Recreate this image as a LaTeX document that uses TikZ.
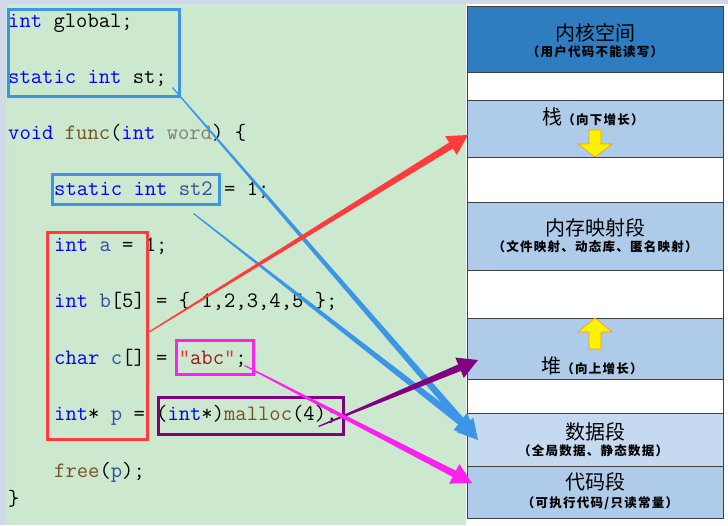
\documentclass[tikz,border=0pt]{standalone}
\usepackage{fontspec}
\newfontfamily\cjk{Noto Sans CJK SC}
\newfontfamily\cjks[LetterSpace=10]{Noto Sans CJK SC}
\usetikzlibrary{positioning,calc}
\definecolor{strip}{HTML}{D0D8EA}
\definecolor{codebg}{HTML}{CCE8CF}
\definecolor{kwblue}{HTML}{0000FF}
\definecolor{idblue}{HTML}{2F4F9F}
\definecolor{fnbrown}{HTML}{74531F}
\definecolor{strred}{HTML}{A31515}
\definecolor{qred}{HTML}{E53333}
\definecolor{boxblue}{HTML}{3D95E8}
\definecolor{boxred}{HTML}{FF3B3B}
\definecolor{boxpink}{HTML}{FF22EE}
\definecolor{boxpurple}{HTML}{800080}
\definecolor{kernel}{HTML}{2E7DC0}
\definecolor{segblue}{HTML}{AECBE9}
\definecolor{datablue}{HTML}{C5D9F1}
\newcommand{\ckw}[1]{\textcolor{kwblue}{#1}}
\newcommand{\cid}[1]{\textcolor{idblue}{#1}}
\newcommand{\cfn}[1]{\textcolor{fnbrown}{#1}}
\newcommand{\cpar}[1]{\textcolor{gray}{#1}}
\newcommand{\cstr}[1]{\textcolor{qred}{"}\textcolor{strred}{#1}\textcolor{qred}{"}}
\newcommand{\subtxt}{\cjks\bfseries\fontsize{12.5}{14}\selectfont}
%% tapered arrow: colour, from, to
\newcommand{\taperarrow}[3]{%
  \coordinate (hb) at ($(#3)!20pt!(#2)$);
  \fill[#1] ($(#2)!0.6pt!90:(#3)$) -- ($(hb)!3.5pt!-90:(#2)$) -- ($(hb)!11pt!-90:(#2)$) -- (#3)
    -- ($(hb)!11pt!90:(#2)$) -- ($(hb)!3.5pt!90:(#2)$) -- ($(#2)!0.6pt!-90:(#3)$) -- cycle;}

\begin{document}
\begin{tikzpicture}[
  x=1pt, y=-1pt,
  code/.style   = {anchor=base west, inner sep=0pt, font=\ttfamily\fontsize{22}{26}\selectfont},
  cbox/.style   = {draw=#1, line width=2.5pt, anchor=north west, inner sep=0pt},
  seg/.style    = {draw=black!75, line width=0.8pt, minimum width=256pt, inner sep=0pt,
                   outer sep=0pt},
  big/.style    = {font=\cjk\fontsize{20}{22}\selectfont, inner sep=0pt},
  small/.style  = {font=\subtxt, inner sep=0pt},
  yarrow/.style = {draw=orange!80!yellow, fill=yellow, line width=0.6pt},
]
\useasboundingbox (0,0) rectangle (728,525);

%% background
\fill[strip] (0,0) rectangle (728,525);
\fill[codebg] (6,4) rectangle (466,525);
\fill[white] (466,4) rectangle (728,525);
\draw[gray!30, dashed, line width=1.5pt] (13,148) -- (13,487);

%% code
\node[code] (l1) at (8,27) {\ckw{int} global;};
\node[code] (l2) at (8,83) {\ckw{static} \ckw{int} st;};
\node[code] (l3) at (8,139) {\ckw{void} \cfn{func}(\ckw{int} \cpar{word}) \{};
\node[code] (l4) at (54,195) {\ckw{static} \ckw{int} \cid{st2} = 1;};
\node[code] (l5) at (54,251) {\ckw{int} \cid{a} = 1;};
\node[code] (l6) at (54,307) {\ckw{int} \cid{b}[5] = \{ 1,2,3,4,5 \};};
\node[code] (l7) at (54,364) {\ckw{char} \cid{c}[] = \cstr{abc};};
\node[code] (l8) at (54,420) {\ckw{int}* \cid{p} = (\ckw{int}*)\cfn{malloc}(4);};
\node[code] (l9) at (54,477) {\cfn{free}(\cid{p});};
\node[code] (l10) at (8,505) {\}};

%% boxes round the code
\node[cbox=boxblue, minimum width=171pt, minimum height=87pt] (glob) at (7,8) {};
\node[cbox=boxblue, minimum width=167pt, minimum height=30pt] (stat) at (51,173) {};
\node[cbox=boxred, minimum width=100pt, minimum height=207pt] (loc) at (46,231) {};
\node[cbox=boxpink, minimum width=77pt, minimum height=34pt] (str) at (175,339) {};
\node[cbox=boxpurple, minimum width=185pt, minimum height=37pt] (mal) at (157,396) {};

%% memory layout
\node[seg, fill=kernel, minimum height=66pt, anchor=north west] (ker) at (467,6) {};
\node[seg, fill=white, minimum height=28pt, below=0pt of ker] (gap1) {};
\node[seg, fill=segblue, minimum height=57pt, below=0pt of gap1] (stk) {};
\node[seg, fill=white, minimum height=45pt, below=0pt of stk] (gap2) {};
\node[seg, fill=segblue, minimum height=68pt, below=0pt of gap2] (mmap) {};
\node[seg, fill=white, minimum height=48pt, below=0pt of mmap] (gap3) {};
\node[seg, fill=segblue, minimum height=61pt, below=0pt of gap3] (heap) {};
\node[seg, fill=white, minimum height=34pt, below=0pt of heap] (gap4) {};
\node[seg, fill=datablue, minimum height=53pt, below=0pt of gap4] (data) {};
\node[seg, fill=segblue, minimum height=52pt, below=0pt of data] (text) {};

\node[big] at (595,33) {内核空间};
\node[small] at (595,52) {（用户代码不能读写）};
\node[big, anchor=base] at (593,124) {栈{\subtxt（向下增长）}};
\node[big] at (595,228) {内存映射段};
\node[small] at (595,247) {（文件映射、动态库、匿名映射）};
\node[big, anchor=base] at (592,373) {堆{\subtxt（向上增长）}};
\node[big] at (595,432) {数据段};
\node[small] at (593,451) {（全局数据、静态数据）};
\node[big] at (595,482) {代码段};
\node[small] at (600,503) {（可执行代码/只读常量）};

%% growth arrows
\draw[yarrow] (589,130) -- (601,130) -- (601,144) -- (612,144) -- (595,157)
  -- (578,144) -- (589,144) -- cycle;
\draw[yarrow] (595,318) -- (612,332) -- (601,332) -- (601,349) -- (589,349)
  -- (589,332) -- (578,332) -- cycle;

%% where each variable lives
\coordinate (stA) at ([shift={(-8,-10)}]glob.south east);
\coordinate (st2A) at ([shift={(-27,8)}]stat.south east);
\coordinate (locA) at ([shift={(1,-4)}]loc.east);
\coordinate (strA) at ([shift={(-10,-10)}]str.south east);
\coordinate (malA) at ([shift={(-26,-9)}]mal.south east);
\coordinate (stkB) at ([shift={(1,6.5)}]stk.west);
\coordinate (dataB) at ([shift={(11,0.5)}]data.west);
\coordinate (data2B) at ([shift={(9,-5.5)}]data.west);
\coordinate (heapB) at ([shift={(11,11.5)}]heap.west);
\coordinate (textB) at ([shift={(5,-9)}]text.west);

\taperarrow{boxblue}{stA}{dataB}
\taperarrow{boxblue}{st2A}{data2B}
\taperarrow{boxred}{locA}{stkB}
\taperarrow{boxpurple}{malA}{heapB}
\taperarrow{boxpink}{strA}{textB}

\end{tikzpicture}
\end{document}
